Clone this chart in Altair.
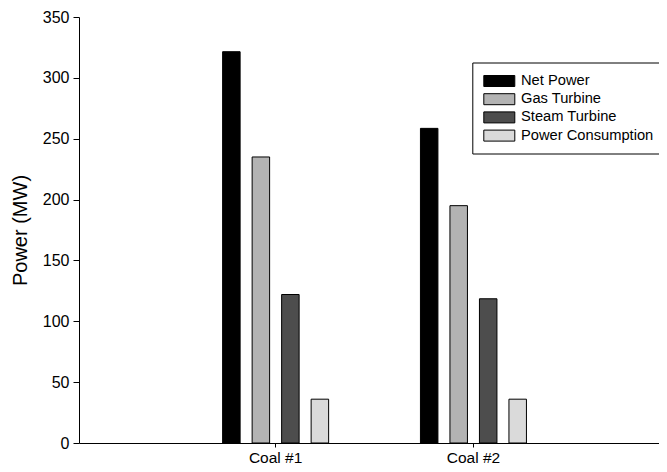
import altair as alt
import pandas as pd

fuels = ["Coal #1", "Coal #2"]
series = ["Net Power", "Gas Turbine", "Steam Turbine", "Power Consumption"]
net_power = [321.5, 258.5]
gas_turbine = [235, 195]
steam_turbine = [122, 118.5]
power_consumption = [36, 36]
colors = ["#000000", "#b3b3b3", "#4d4d4d", "#dadada"]
y_ticks = [0, 50, 100, 150, 200, 250, 300, 350]

rows = []
for s, vals in zip(series, [net_power, gas_turbine, steam_turbine, power_consumption]):
    for f, v in zip(fuels, vals):
        rows.append({"fuel": f, "series": s, "power": v})
df = pd.DataFrame(rows)

rect_symbol = "M-1.9375,-0.6875H1.9375V0.6875H-1.9375Z"

chart = alt.Chart(df).mark_bar(stroke="black", strokeWidth=1).encode(
    x=alt.X("fuel:N", sort=fuels, title=None,
            scale=alt.Scale(paddingInner=0.4, paddingOuter=0.666, align=0.521),
            axis=alt.Axis(labelAngle=0, labelFontSize=15.5, labelColor="black",
                          tickSize=4, labelPadding=3, domainColor="black",
                          tickColor="black")),
    xOffset=alt.XOffset("series:N", sort=series,
                        scale=alt.Scale(paddingInner=0.407, paddingOuter=0.215)),
    y=alt.Y("power:Q", title="Power (MW)",
            scale=alt.Scale(domain=[0, 350], nice=False),
            axis=alt.Axis(values=y_ticks, grid=False, labelFontSize=16, labelColor="black",
                          titleFontSize=20, titleFontWeight="normal", titleColor="black",
                          tickSize=6, labelPadding=4, titlePadding=12,
                          domainColor="black", tickColor="black")),
    color=alt.Color("series:N", sort=series,
                    scale=alt.Scale(domain=series, range=colors),
                    legend=alt.Legend(title=None, orient="none", legendX=393.3, legendY=45.5,
                                      strokeColor="black", padding=10,
                                      symbolType=rect_symbol, symbolSize=256,
                                      symbolStrokeColor="black", symbolStrokeWidth=1,
                                      symbolOffset=8.5, labelOffset=13.2,
                                      labelFontSize=14.7, labelColor="black",
                                      rowPadding=2.2, symbolOpacity=1)),
).properties(
    width=580, height=426,
    autosize=alt.AutoSizeParams(type="none"),
    padding={"left": 71, "top": 9, "right": 0, "bottom": 21},
).configure(font="Liberation Sans").configure_view(stroke=None)

chart.save("out.html", embed_options={"renderer": "svg", "actions": False})
